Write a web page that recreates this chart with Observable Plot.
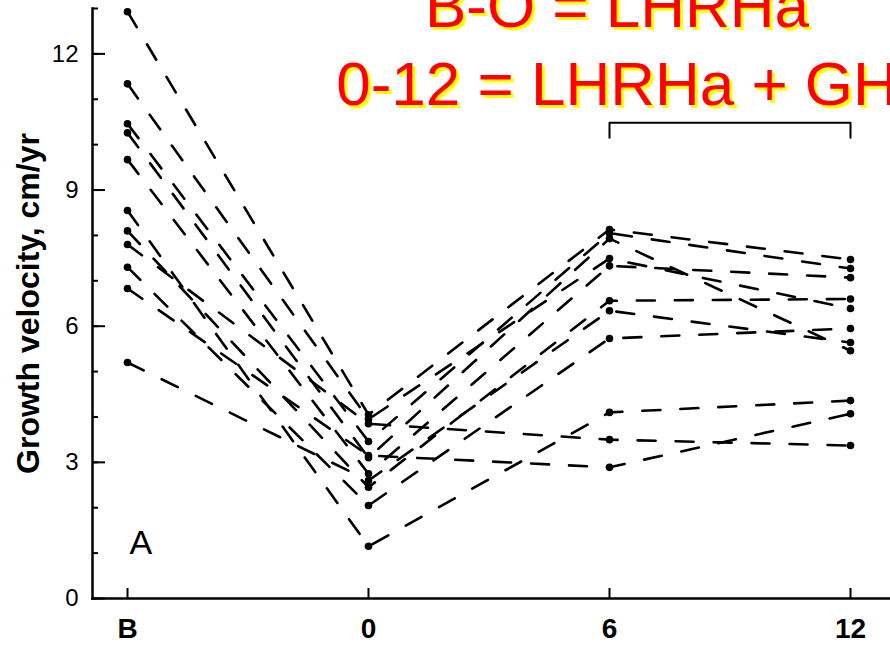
<!DOCTYPE html>
<html><head><meta charset="utf-8">
<script src="https://cdn.jsdelivr.net/npm/d3@7"></script>
<script src="https://cdn.jsdelivr.net/npm/@observablehq/plot@0.6"></script>
<style>
body{margin:0;background:#fff;overflow:hidden;}
#wrap{position:relative;width:890px;height:649px;overflow:hidden;background:#fff;}
#wrap svg{position:absolute;left:0;top:0;}
.title{position:absolute;left:617px;transform:translateX(-50%);white-space:nowrap;font-family:"Liberation Sans",Arial,sans-serif;font-size:62px;line-height:62px;color:#ff0000;text-shadow:3px 3px 0 #ffff00;}
</style></head><body>
<div id="wrap"></div>
<script>
// Time points (x categories)
const timepoints = ["B", "0", "6", "12"];
// Growth velocity (cm/yr) for each of 11 subjects at each time point
const velB  = [12.93, 11.34, 10.46, 10.26, 9.67, 8.55, 8.1, 7.8, 7.3, 6.83, 5.2];
const vel0  = [4.05, 3.95, 3.46, 3.1, 2.75, 1.15, 2.45, 3.85, 2.05, 3.15, 2.6];
const vel6  = [8.13, 7.49, 8.05, 7.93, 7.33, 4.1, 6.56, 3.5, 5.73, 2.89, 6.34];
const vel12 = [7.47, 6.39, 7.27, 5.46, 7.07, 4.36, 6.6, 3.37, 5.95, 4.07, 5.64];
// Axis ticks
const yMinorTicks = [0,1,2,3,4,5,6,7,8,9,10,11,12,13];
const yMajorTicks = [0,3,6,9,12];
const yTitle = "Growth velocity, cm/yr";
const titleLines = ["B-O = LHRHa", "0-12 = LHRHa + GH"];
const panelLabel = [{t: "B", v: 1.23, text: "A"}];
const bracket = [{t: "6", v: 10.15}, {t: "6", v: 10.48}, {t: "12", v: 10.48}, {t: "12", v: 10.15}];

const series = [velB, vel0, vel6, vel12];
const data = [];
velB.forEach((_, i) => {
  timepoints.forEach((t, j) => data.push({id: i, t, v: series[j][i]}));
});

const chart = Plot.plot({
  width: 890, height: 649,
  marginLeft: 92, marginRight: 0, marginTop: 8, marginBottom: 51,
  style: {fontFamily: "'Liberation Sans', Arial, sans-serif", background: "white", color: "black"},
  x: {type: "point", domain: timepoints, range: [127, 850], padding: 0},
  y: {domain: [0, 13]},
  marks: [
    Plot.axisY(yMinorTicks, {tickSize: -6, text: null, label: null, strokeWidth: 2}),
    Plot.axisY(yMajorTicks, {tickSize: -13, text: null, label: null, strokeWidth: 2}),
    Plot.axisY(yMajorTicks, {tickSize: 0, tickPadding: 14, fontSize: 24, label: null}),
    Plot.text([yTitle], {frameAnchor: "left", textAnchor: "middle", lineAnchor: "middle", rotate: -90, dx: -64, fontSize: 32, fontWeight: "bold"}),
    Plot.axisX({tickSize: -10, text: null, label: null, strokeWidth: 2}),
    Plot.axisX({tickSize: 0, tickPadding: 20, fontSize: 28, fontWeight: "bold", label: null}),
    Plot.frame({anchor: "left", strokeWidth: 2.5}),
    Plot.frame({anchor: "bottom", strokeWidth: 2.5}),
    Plot.line(data, {x: "t", y: "v", z: "id", stroke: "black", strokeWidth: 2.6, strokeDasharray: "18,20"}),
    Plot.dot(data, {x: "t", y: "v", r: 3.8, fill: "black"}),
    Plot.line(bracket, {x: "t", y: "v", stroke: "black", strokeWidth: 2}),
    Plot.text(panelLabel, {x: "t", y: "v", text: "text", textAnchor: "start", dx: 2, fontSize: 34})
  ]
});
const wrap = document.getElementById("wrap");
wrap.appendChild(chart);
titleLines.forEach((s, i) => {
  const d = document.createElement("div");
  d.className = "title";
  d.style.top = (i === 0 ? -25 : 53) + "px";
  d.textContent = s;
  wrap.appendChild(d);
});
</script>
</body></html>
